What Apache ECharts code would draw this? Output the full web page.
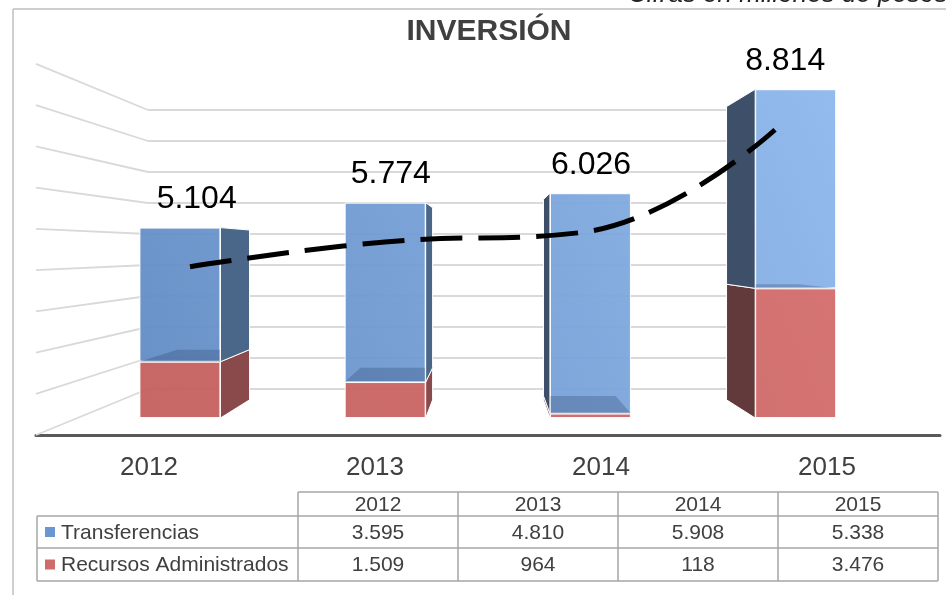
<!DOCTYPE html>
<html>
<head>
<meta charset="utf-8">
<script src="https://cdn.jsdelivr.net/npm/echarts@6/dist/echarts.min.js"></script>
<style>
html, body { margin: 0; padding: 0; background: #fff; }
#chart { width: 946px; height: 595px; }
</style>
</head>
<body>
<div id="chart"></div>
<script>
// datos
var years = ['2012', '2013', '2014', '2015'];
var transferencias = [3595, 4810, 5908, 5338];
var recursos = [1509, 964, 118, 3476];
var wallTicks = [0, 1000, 2000, 3000, 4000, 5000, 6000, 7000, 8000, 9000];
var seriesNames = ['Transferencias', 'Recursos Administrados'];

var totals = years.map(function (y, i) { return transferencias[i] + recursos[i]; });

// numeros con punto de miles
function fmt(n) {
    if (n < 1000) return String(n);
    var r = String(n % 1000);
    while (r.length < 3) r = '0' + r;
    return Math.floor(n / 1000) + '.' + r;
}

// perspectiva aproximada
var VP = { x: 490, y: 250 };
var K = 0.892;
var BAR_W = 81;
var WALL = { x: 36, y: 435, scale: 1.33 };
var FONT = 'Liberation Sans, Arial, sans-serif';
var TXT = '#404040';

var SIDE = {
    right: ['#8a494a', '#4a6789'],
    left: ['#623a3b', '#3e5069']
};

var blueFill = new echarts.graphic.LinearGradient(100, 420, 900, 80, [
    { offset: 0, color: '#5e89c2' },
    { offset: 1, color: '#92bbef' }
], true);
var redFill = new echarts.graphic.LinearGradient(100, 420, 900, 80, [
    { offset: 0, color: '#c45f5d' },
    { offset: 1, color: '#d56f6d' }
], true);

var chartBox = document.getElementById('chart');
var myChart = echarts.init(chartBox);

function bx(x) { return VP.x + (x - VP.x) * K; }
function by(y) { return VP.y + (y - VP.y) * K; }

function renderFaces(params, api) {
    var i = api.value(0);
    var red = api.value(1);
    var blue = api.value(2);
    var segs = [[0, red, 0], [red, red + blue, 1]];
    var cx = api.coord([i, 0])[0];
    var hw = BAR_W / 2;
    var onLeft = cx < VP.x;
    var ex = onLeft ? cx + hw : cx - hw;
    var children = [];
    segs.forEach(function (s) {
        var yb = api.coord([i, s[0]])[1];
        var yt = api.coord([i, s[1]])[1];
        children.push({
            type: 'polygon',
            shape: { points: [[ex, yt], [bx(ex), by(yt)], [bx(ex), by(yb)], [ex, yb]] },
            style: { fill: SIDE[onLeft ? 'right' : 'left'][s[2]], stroke: '#fff', lineWidth: 1 }
        });
        if (yt > VP.y && s[2] === 0) {
            children.push({
                type: 'polygon',
                shape: { points: [[cx - hw, yt], [cx + hw, yt], [bx(cx + hw), by(yt)], [bx(cx - hw), by(yt)]] },
                style: { fill: 'rgba(35,55,95,0.26)' }
            });
        }
    });
    var top = api.coord([i, red + blue])[1];
    children.push({
        type: 'text',
        style: {
            text: fmt(red + blue),
            x: (cx + bx(cx)) / 2 + (onLeft ? 0 : 6),
            y: Math.min(top, by(top)) - 12,
            align: 'center',
            verticalAlign: 'bottom',
            font: '32px ' + FONT,
            fill: '#000'
        }
    });
    return { type: 'group', children: children };
}

function renderWall(params, api) {
    var back = api.coord([0, api.value(1)]);
    var base = api.coord([0, 0]);
    return {
        type: 'line',
        shape: { x1: WALL.x, y1: WALL.y - (base[1] - back[1]) * WALL.scale, x2: back[0], y2: back[1] },
        style: { stroke: '#d9d9d9', lineWidth: 1.8 }
    };
}

// tabla de datos
var table = [];
var COLS = [298, 458, 618, 778, 938];
var ROWS = [492, 516, 548, 581];
var LEFT = 37;
var lineStyle = { stroke: '#a6a6a6', lineWidth: 1.5 };
function hline(x1, x2, y) {
    table.push({ type: 'line', shape: { x1: x1, y1: y, x2: x2, y2: y }, style: lineStyle });
}
function vline(x, y1, y2) {
    table.push({ type: 'line', shape: { x1: x, y1: y1, x2: x, y2: y2 }, style: lineStyle });
}
hline(COLS[0], COLS[4], ROWS[0]);
hline(LEFT, COLS[4], ROWS[1]);
hline(LEFT, COLS[4], ROWS[2]);
hline(LEFT, COLS[4], ROWS[3]);
vline(LEFT, ROWS[1], ROWS[3]);
COLS.forEach(function (x) { vline(x, ROWS[0], ROWS[3]); });
function cell(text, x, y, align) {
    table.push({
        type: 'text',
        style: { text: text, x: x, y: y, align: align || 'center', verticalAlign: 'middle', font: '21px ' + FONT, fill: TXT }
    });
}
years.forEach(function (y, i) {
    var mx = (COLS[i] + COLS[i + 1]) / 2;
    cell(y, mx, (ROWS[0] + ROWS[1]) / 2 + 1);
    cell(fmt(transferencias[i]), mx, (ROWS[1] + ROWS[2]) / 2 + 1);
    cell(fmt(recursos[i]), mx, (ROWS[2] + ROWS[3]) / 2 + 1);
});
[['#6a97cf', seriesNames[0], 1], ['#cf6b6b', seriesNames[1], 2]].forEach(function (r) {
    var my = (ROWS[r[2]] + ROWS[r[2] + 1]) / 2;
    table.push({ type: 'rect', shape: { x: 45, y: my - 5, width: 10, height: 10 }, style: { fill: r[0] } });
    cell(r[1], 61, my + 1, 'left');
});

var option = {
    backgroundColor: '#fff',
    animation: false,
    graphic: [
        { type: 'line', shape: { x1: 13, y1: 9, x2: 946, y2: 9 }, style: { stroke: '#bfbfbf', lineWidth: 1.5 } },
        { type: 'line', shape: { x1: 13, y1: 9, x2: 13, y2: 595 }, style: { stroke: '#bfbfbf', lineWidth: 1.5 } },
        {
            type: 'text',
            style: { text: 'Cifras en millones de pesos', x: 628, y: 8, verticalAlign: 'bottom', font: 'italic 26px ' + FONT, fill: '#222' }
        },
        {
            type: 'text',
            style: { text: 'INVERSIÓN', x: 489, y: 32, align: 'center', verticalAlign: 'middle', font: 'bold 30px ' + FONT, fill: TXT }
        }
    ].concat(table),
    grid: [
        { left: 77.3, right: 47.7, top: 45, bottom: 177 },
        { left: 148, right: 201, top: 110, bottom: 206 },
        { left: 92.5, right: 73.5, top: 86, bottom: 140 },
        { left: 36, right: 6, top: 60, bottom: 160 }
    ],
    xAxis: [
        { type: 'category', data: years, gridIndex: 0, show: false },
        { type: 'value', min: 0, max: 1, gridIndex: 1, show: false },
        { type: 'category', data: years, gridIndex: 2, show: false },
        {
            type: 'category', data: years, gridIndex: 3,
            axisLine: { lineStyle: { color: '#595959', width: 3 } },
            axisTick: { show: false },
            axisLabel: { fontSize: 26, color: TXT, fontFamily: FONT, margin: 20 }
        }
    ],
    yAxis: [
        { type: 'value', min: 0, max: 10000, gridIndex: 0, show: false },
        {
            type: 'value', min: 0, max: 9000, interval: 1000, gridIndex: 1,
            axisLine: { show: false }, axisTick: { show: false }, axisLabel: { show: false },
            splitLine: { lineStyle: { color: '#d9d9d9', width: 1.8 } }
        },
        { type: 'value', min: 0, max: 10000, gridIndex: 2, show: false },
        { type: 'value', min: 0, max: 1, gridIndex: 3, show: false }
    ],
    series: [
        {
            type: 'custom',
            xAxisIndex: 1,
            yAxisIndex: 1,
            renderItem: renderWall,
            data: wallTicks.map(function (v) { return [0, v]; }),
            silent: true,
            z: 1
        },
        {
            name: seriesNames[1],
            type: 'bar',
            stack: 'total',
            barWidth: BAR_W,
            xAxisIndex: 0,
            yAxisIndex: 0,
            itemStyle: { color: redFill, borderColor: '#fff', borderWidth: 1, opacity: 0.95 },
            data: recursos,
            z: 2
        },
        {
            name: seriesNames[0],
            type: 'bar',
            stack: 'total',
            barWidth: BAR_W,
            xAxisIndex: 0,
            yAxisIndex: 0,
            itemStyle: { color: blueFill, borderColor: '#fff', borderWidth: 1, opacity: 0.95 },
            data: transferencias,
            z: 2
        },
        {
            type: 'custom',
            xAxisIndex: 0,
            yAxisIndex: 0,
            renderItem: renderFaces,
            clip: false,
            encode: { x: 0, y: 3 },
            data: years.map(function (y, i) { return [i, recursos[i], transferencias[i], totals[i]]; }),
            z: 3
        },
        {
            type: 'line',
            xAxisIndex: 2,
            yAxisIndex: 2,
            data: totals,
            smooth: 0.45,
            symbol: 'none',
            lineStyle: { color: '#000', width: 5, type: [42, 16], cap: 'butt' },
            z: 5
        }
    ]
};
myChart.setOption(option);
window.onresize = function () {
    myChart.resize();
};
</script>
</body>
</html>
